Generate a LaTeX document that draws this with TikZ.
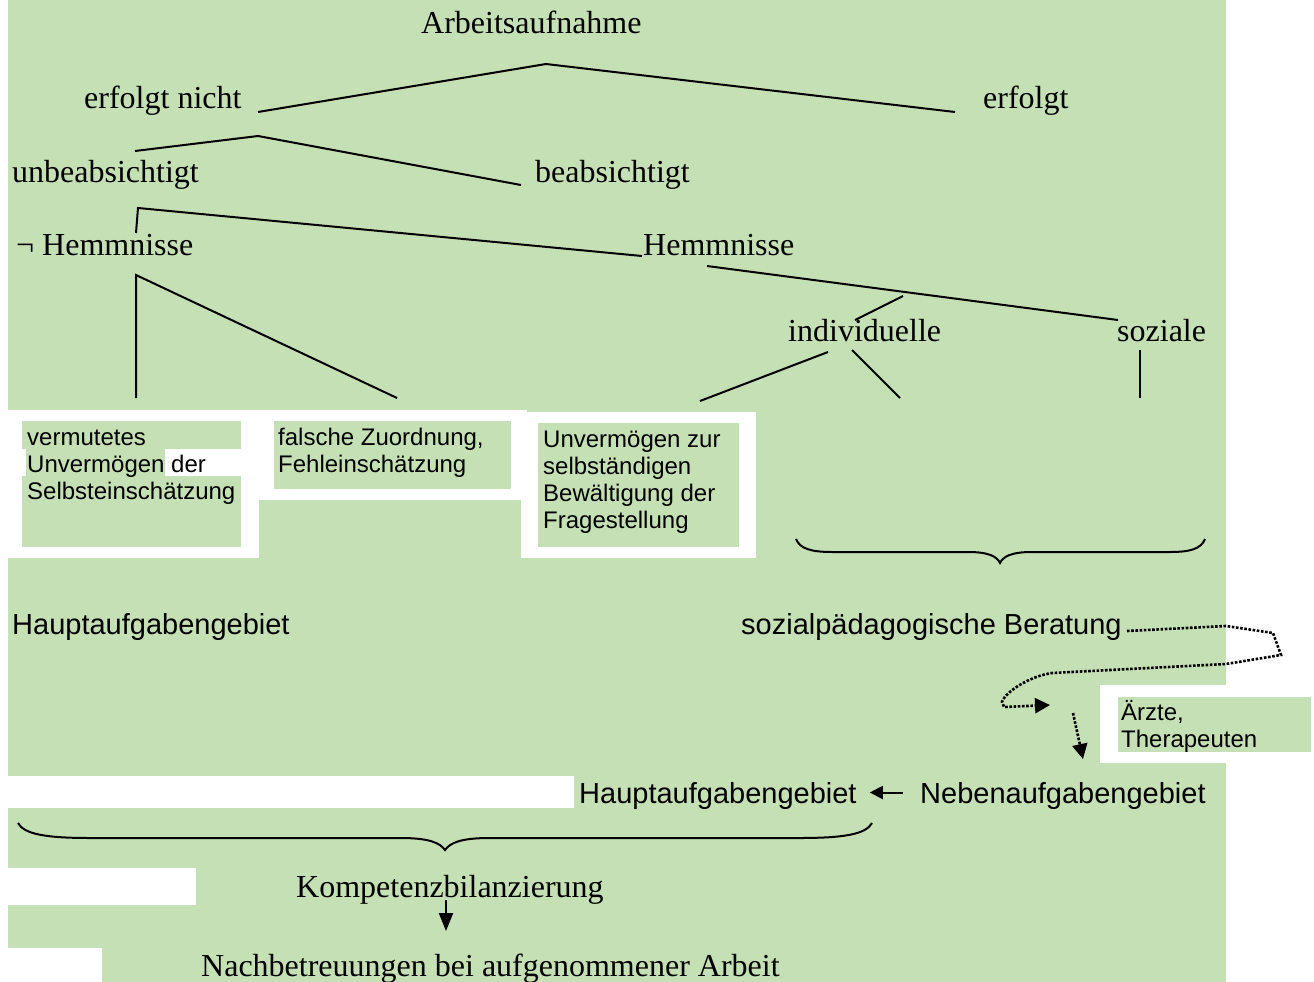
\documentclass[tikz,border=0pt]{standalone}
\usepackage{fontspec}
\setmainfont{Liberation Serif}
\setsansfont{Liberation Sans}
\usetikzlibrary{arrows.meta}
\definecolor{bg}{RGB}{197,224,180}
\begin{document}
\begin{tikzpicture}[x=1pt,y=-1pt,
  serif/.style={inner sep=0pt, anchor=base west, font=\fontsize{32}{38}\selectfont},
  sans/.style={inner sep=0pt, anchor=base west, font=\sffamily\fontsize{29}{34}\selectfont},
  boxtext/.style={inner sep=0pt, anchor=base west, align=left, font=\sffamily\fontsize{24}{27.3}\selectfont},
  tree/.style={line width=2pt, line join=miter},
  brace/.style={line width=2pt},
  solidarr/.style={line width=2pt, -{Triangle[length=13pt,width=13pt]}},
  dotarr/.style={line width=2.6pt, dash pattern=on 2.6pt off 1.6pt, -{Triangle[length=15pt,width=15pt]}},
  dotline/.style={line width=2.6pt, dash pattern=on 2.6pt off 1.6pt}]
\useasboundingbox (0,0) rectangle (1314,982);
% background
\fill[bg] (8,0) rectangle (1226,982);
% box 1
\fill[white] (8,410) rectangle (259,558);
\fill[bg] (22,421) rectangle (241,449);
\fill[bg] (26,449) rectangle (165,476);
\fill[bg] (22,476) rectangle (241,547);
% box 2
\fill[white] (259,410) rectangle (527,500);
\fill[bg] (274,421) rectangle (511,489);
% box 3
\fill[white] (521,412) rectangle (756,558);
\fill[bg] (538,423) rectangle (739,547);
% Aerzte box
\fill[white] (1100,685) rectangle (1228,763);
\fill[bg] (1118,697) rectangle (1311,752);
% bottom white patches
\fill[white] (8,776) rectangle (574,808);
\fill[white] (8,868) rectangle (196,905);
\fill[white] (8,948) rectangle (102,982);

% texts (multi-line nodes: base = baseline of the last line)
\node[serif] (arbeit) at (421,34) {Arbeitsaufnahme};
\node[serif] (nicht) at (84,108) {erfolgt nicht};
\node[serif] (erfolgt) at (983,108) {erfolgt};
\node[serif] (unbeab) at (12,182) {unbeabsichtigt};
\node[serif] (beab) at (535,182) {beabsichtigt};
\node[serif] (nhemm) at (16,255) {¬ Hemmnisse};
\node[serif] (hemm) at (643,255) {Hemmnisse};
\node[serif] (indiv) at (788,341) {individuelle};
\node[serif] (sozial) at (1117,341) {soziale};
\node[boxtext] (box1) at (27,499.6) {vermutetes\\Unvermögen der\\Selbsteinschätzung};
\node[boxtext] (box2) at (278,472.3) {falsche Zuordnung,\\Fehleinschätzung};
\node[boxtext] (box3) at (543,528.9) {Unvermögen zur\\selbständigen\\Bewältigung der\\Fragestellung};
\node[sans] (haupt1) at (12,634) {Hauptaufgabengebiet};
\node[sans] (berat) at (741,634) {sozialpädagogische Beratung};
\node[boxtext] (aerzte) at (1121,747.3) {Ärzte,\\Therapeuten};
\node[sans] (haupt2) at (579,803) {Hauptaufgabengebiet};
\node[sans] (neben) at (920,803) {Nebenaufgabengebiet};
\node[serif] (kompetenz) at (296,897) {Kompetenzbilanzierung};
\node[serif] (nach) at (201,976) {Nachbetreuungen bei aufgenommener Arbeit};

% tree coordinates
\coordinate (a1) at (258,112); \coordinate (a2) at (546,64); \coordinate (a3) at (955,112);
\coordinate (b1) at (135,151); \coordinate (b2) at (258,136); \coordinate (b3) at (521,185);
\coordinate (c1) at (136,233); \coordinate (c2) at (138,208); \coordinate (c3) at (642,256);
\coordinate (d1) at (136,398); \coordinate (d2) at (136,275); \coordinate (d3) at (397,398);
\coordinate (e1) at (707,266); \coordinate (e2) at (1118,320);
\coordinate (f1) at (903,296); \coordinate (f2) at (855,320);
\coordinate (g1) at (828,352); \coordinate (g2) at (700,401);
\coordinate (g3) at (852,350); \coordinate (g4) at (900,398);
\coordinate (h1) at (1140,350); \coordinate (h2) at (1140,398);

\draw[tree] (a1) -- (a2) -- (a3);
\draw[tree] (b1) -- (b2) -- (b3);
\draw[tree] (c1) -- (c2) -- (c3);
\draw[tree] (d1) -- (d2) -- (d3);
\draw[tree] (e1) -- (e2);
\draw[tree] (f1) -- (f2);
\draw[tree] (g1) -- (g2);
\draw[tree] (g3) -- (g4);
\draw[tree] (h1) -- (h2);

% braces
\draw[brace] (796,539) .. controls (800,549) and (812,552) .. (832,552) -- (968,552)
  .. controls (990,552) and (997,557) .. (1000,563)
  .. controls (1003,557) and (1010,552) .. (1032,552) -- (1170,552)
  .. controls (1190,552) and (1201,549) .. (1205,539);
\draw[brace] (18,823) .. controls (24,834) and (45,838) .. (90,838) -- (400,838)
  .. controls (430,838) and (440,843) .. (445,850)
  .. controls (450,843) and (460,838) .. (490,838) -- (800,838)
  .. controls (845,838) and (866,834) .. (872,823);

% dotted path from Beratung
\coordinate (p0) at (1127,631);
\coordinate (p1) at (1226,626);
\coordinate (p2) at (1273,633);
\coordinate (p3) at (1281,655);
\coordinate (p4) at (1226,664);
\coordinate (p5) at (1052,673);
\coordinate (p6) at (1002,702);
\coordinate (p7) at (1004,707);
\coordinate (p8) at (1050,705);
\draw[dotarr] (p0) -- (p1) -- (p2) -- (p3) -- (p4) -- (p5)
  .. controls (1030,676) and (1005,692) .. (p6) -- (p7) -- (p8);
\coordinate (q1) at (1073,713);
\coordinate (q2) at (1083,759);
\draw[dotarr] (q1) -- (q2);

% solid arrows
\draw[solidarr, shorten <=17pt, shorten >=13pt] ([yshift=3pt]neben.west) -- ([yshift=3pt]haupt2.east);
\coordinate (k1) at (446,900);
\coordinate (k2) at (446,931);
\draw[line width=2pt, -{Triangle[length=18pt,width=14pt]}] (k1) -- (k2);
\end{tikzpicture}
\end{document}
